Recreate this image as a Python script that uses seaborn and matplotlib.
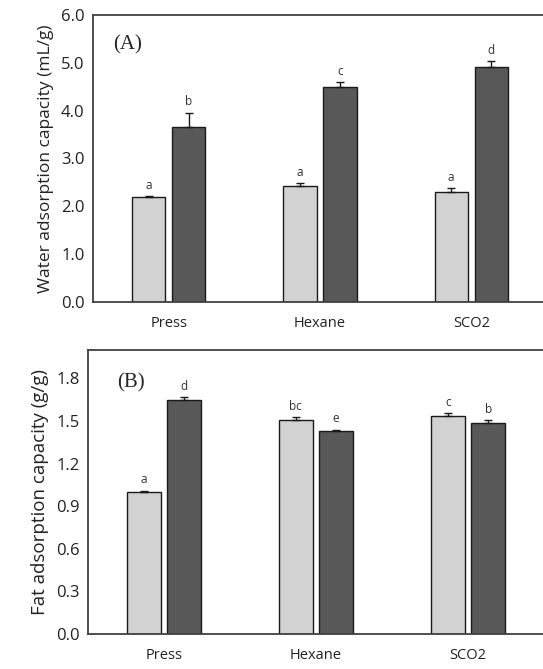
import numpy as np
import pandas as pd
import matplotlib
matplotlib.use("Agg")
import matplotlib.pyplot as plt
import seaborn as sns

methods = ["Press", "Hexane", "SCO2"]
groups = ["light", "dark"]

water_light = [2.20, 2.42, 2.30]
water_dark = [3.66, 4.49, 4.92]
water_err_light = [0.02, 0.07, 0.08]
water_err_dark = [0.30, 0.11, 0.12]
water_letters_light = ["a", "a", "a"]
water_letters_dark = ["b", "c", "d"]

fat_light = [1.00, 1.51, 1.533]
fat_dark = [1.646, 1.43, 1.485]
fat_err_light = [0.01, 0.02, 0.02]
fat_err_dark = [0.02, 0.01, 0.02]
fat_letters_light = ["a", "bc", "c"]
fat_letters_dark = ["d", "e", "b"]

sns.set_style("white")
plt.rcParams["font.family"] = ["Open Sans", "DejaVu Sans"]

colors = {"light": "#d2d2d2", "dark": "#585858"}


def panel(ax, light, dark, err_l, err_d, let_l, let_d, ylim, ticks, ylabel, ylsize, tag, tagpos):
    df = pd.DataFrame({
        "method": methods * 2,
        "group": ["light"] * 3 + ["dark"] * 3,
        "value": list(light) + list(dark),
    })
    sns.barplot(data=df, x="method", y="value", hue="group", order=methods,
                hue_order=groups, palette=colors, width=0.53, gap=0.17,
                errorbar=None, edgecolor="#1a1a1a", linewidth=1.0, legend=False, ax=ax)
    errs = list(err_l) + list(err_d)
    lets = list(let_l) + list(let_d)
    vals = list(light) + list(dark)
    for p, v, e, t in zip(ax.patches, vals, errs, lets):
        xc = p.get_x() + p.get_width() / 2
        ax.errorbar(xc, v, yerr=[[0], [e]], fmt="none", ecolor="#1a1a1a",
                    elinewidth=1.0, capsize=3, capthick=1.0)
        ax.annotate(t, (xc, v + e), xytext=(0, 3), textcoords="offset points",
                    ha="center", va="bottom", fontsize=8.5, color="#333333")
    ax.set_xlim(-0.5, 2.5)
    ax.set_ylim(*ylim)
    ax.set_yticks(ticks)
    ax.set_yticklabels([f"{t:.1f}" for t in ticks])
    ax.set_xlabel("")
    ax.set_ylabel(ylabel, fontsize=ylsize, color="#222222", labelpad=5)
    ax.tick_params(axis="y", direction="in", length=4, width=1, colors="#404040",
                   labelsize=12, labelcolor="#222222", pad=6)
    ax.tick_params(axis="x", length=0, labelsize=10.5, labelcolor="#222222", pad=10)
    for s in ["left", "top", "bottom"]:
        ax.spines[s].set_color("#404040")
        ax.spines[s].set_linewidth(1.3)
    ax.spines["right"].set_visible(False)
    ax.text(tagpos[0], tagpos[1], tag, transform=ax.transAxes, fontsize=15,
            family="Liberation Serif", va="center", ha="left")


W, H = 543, 669
fig = plt.figure(figsize=(W / 100, H / 100), dpi=100)
ax1 = fig.add_axes([93 / W, 1 - 302 / H, 454 / W, 287 / H])
ax2 = fig.add_axes([88 / W, 1 - 634 / H, 456 / W, 284 / H])

panel(ax1, water_light, water_dark, water_err_light, water_err_dark,
      water_letters_light, water_letters_dark, (0, 6.0), np.arange(0, 6.01, 1.0),
      "Water adsorption capacity (mL/g)", 12.5, "(A)", (0.044, 0.895))
panel(ax2, fat_light, fat_dark, fat_err_light, fat_err_dark,
      fat_letters_light, fat_letters_dark, (0, 2.0), np.arange(0, 1.81, 0.3),
      "Fat adsorption capacity (g/g)", 13.5, "(B)", (0.064, 0.884))

fig.savefig("out.png", dpi=100)
